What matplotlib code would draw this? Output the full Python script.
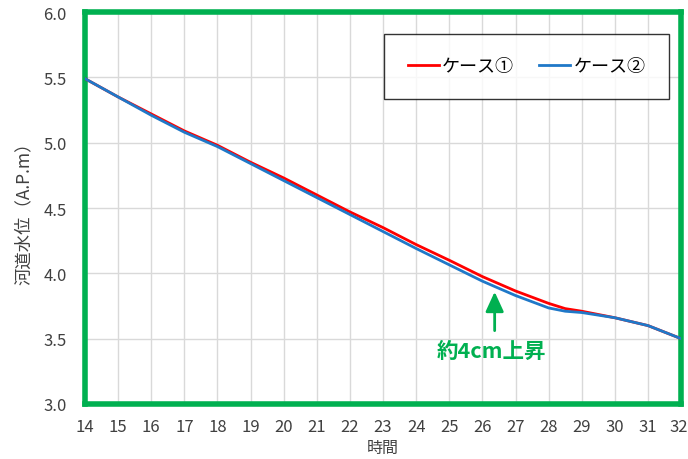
import matplotlib
matplotlib.use("Agg")
import matplotlib.pyplot as plt
import matplotlib.transforms as mtransforms

plt.rcParams["font.family"] = ["Noto Sans CJK JP", "DejaVu Sans"]

# 時間 (hour)
hours = [14, 15, 16, 17, 18, 19, 20, 21, 22, 23, 24, 25, 26, 27, 28, 28.5, 29, 30, 31, 32]
# ケース① 河道水位
case1 = [5.49, 5.35, 5.22, 5.09, 4.98, 4.85, 4.73, 4.60, 4.47, 4.35, 4.22, 4.10,
         3.975, 3.865, 3.77, 3.73, 3.71, 3.66, 3.60, 3.50]
# ケース② 河道水位
case2 = [5.49, 5.35, 5.21, 5.08, 4.97, 4.84, 4.71, 4.58, 4.45, 4.32, 4.19, 4.065,
         3.94, 3.83, 3.735, 3.71, 3.70, 3.66, 3.60, 3.50]

series_names = ["ケース①", "ケース②"]
GREEN = "#00B050"

fig = plt.figure(figsize=(6.88, 4.60), dpi=100)
ax = fig.add_axes([0.1235, 0.1196, 0.8665, 0.8521])

ax.plot(hours, case1, color="#FF0000", lw=2, label=series_names[0], zorder=3)
ax.plot(hours, case2, color="#1F78C8", lw=2, label=series_names[1], zorder=3)

ax.set_xlim(14, 32)
ax.set_ylim(3.0, 6.0)
ax.set_xticks(range(14, 33))
ax.set_yticks([3.0, 3.5, 4.0, 4.5, 5.0, 5.5, 6.0])
ax.set_yticklabels([f"{v:.1f}" for v in ax.get_yticks()])
ax.grid(True, color="#D9D9D9", lw=1)
ax.set_axisbelow(True)
ax.tick_params(length=0, labelsize=12, labelcolor="#404040")
ax.tick_params(axis="y", pad=13)
ax.tick_params(axis="x", pad=10)

# keep the last hour label inside the figure, like the original
last = ax.get_xticklabels()[-1]
last.set_horizontalalignment("right")
last.set_transform(last.get_transform() +
                   mtransforms.ScaledTranslation(5 / 72, 0, fig.dpi_scale_trans))

for sp in ax.spines.values():
    sp.set_color(GREEN)
    sp.set_linewidth(4)

ax.set_xlabel("時間", fontsize=11.5, color="#404040", labelpad=3)
ax.set_ylabel("河道水位（A.P.m）", fontsize=12.5, color="#404040", labelpad=8)

leg = ax.legend(loc="upper right", ncol=2, fontsize=13, frameon=True, fancybox=False,
                edgecolor="black", borderpad=1.3, handlelength=1.7, handletextpad=0.2,
                columnspacing=1.4, borderaxespad=0, bbox_to_anchor=(0.98, 0.944))
leg.get_frame().set_linewidth(1)

# 約4cm上昇 annotation
ax.annotate("", xy=(26.37, 3.88), xytext=(26.37, 3.54),
            arrowprops=dict(arrowstyle="-|>,head_width=0.55,head_length=1.2",
                            color=GREEN, lw=2))
ax.text(26.28, 3.41, "約4cm上昇", color=GREEN, fontsize=15.5, fontweight="bold",
        ha="center", va="center")

fig.savefig("out.png", dpi=100)
